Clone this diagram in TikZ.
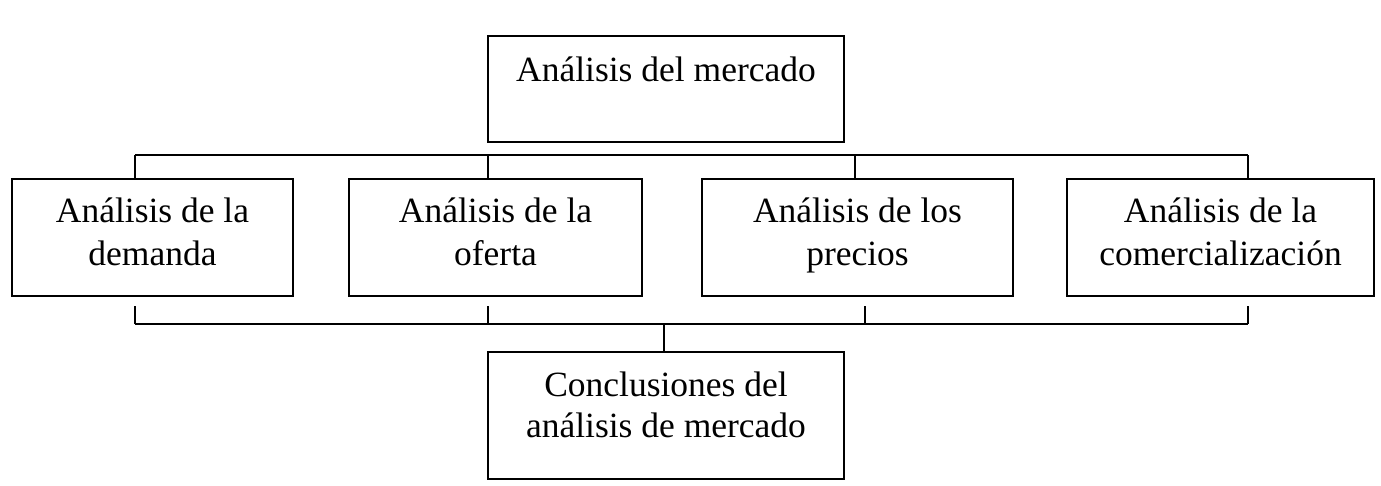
\documentclass[tikz,border=0pt]{standalone}
\usepackage{fontspec}
\setmainfont{Liberation Serif}
\usepackage{tikz}

\begin{document}
\begin{tikzpicture}[x=0.02cm, y=-0.02cm,
    box/.style = {draw, line width=1.1pt, align=center, inner sep=0pt,
                  minimum height=2.34cm, text height=40.4pt, text depth=8pt,
                  font=\fontsize{20.2}{25}\selectfont},
    link/.style = {line width=1.1pt}
    ]
            \useasboundingbox (0,0) rectangle (1381,485);
            \node[box, minimum width=7.12cm, minimum height=2.12cm,
                  text height=14pt, text depth=22pt] (mercado) at (666,89) {Análisis del mercado};
            \node[box, minimum width=5.62cm] (demanda) at (152.5,237.5) {Análisis de la\\demanda};
            \node[box, minimum width=5.86cm] (oferta) at (495.5,237.5) {Análisis de la\\oferta};
            \node[box, minimum width=6.22cm] (precios) at (857.5,237.5) {Análisis de los\\precios};
            \node[box, minimum width=6.14cm] (comercial) at (1220.5,237.5) {Análisis de la\\comercialización};
            \node[box, minimum width=7.12cm, minimum height=2.54cm, text height=32.5pt,
                  font=\fontsize{20.2}{22.8}\selectfont] (conclusiones) at (666,415.5) {Conclusiones del\\análisis de mercado};

            \coordinate (t1) at (135,155);
            \coordinate (t2) at (488,155);
            \coordinate (t3) at (855,155);
            \coordinate (t4) at (1248,155);
            \coordinate (b1) at (135,324);
            \coordinate (b2) at (488,324);
            \coordinate (b3) at (865,324);
            \coordinate (b4) at (1248,324);
            \coordinate (bm) at (664,324);

            \draw[link] (t1) -- (t4);
            \draw[link] (b1) -- (b4);
            \foreach \t/\b/\n in {t1/b1/demanda, t2/b2/oferta, t3/b3/precios, t4/b4/comercial}
            {
                \draw[link] (\t) -- (\t |- \n.north);
                \draw[link] (\b) -- ([yshift=-0.18cm]\b |- \n.south);
            }
            \draw[link] (bm) -- (bm |- conclusiones.north);
        \end{tikzpicture}
\end{document}
